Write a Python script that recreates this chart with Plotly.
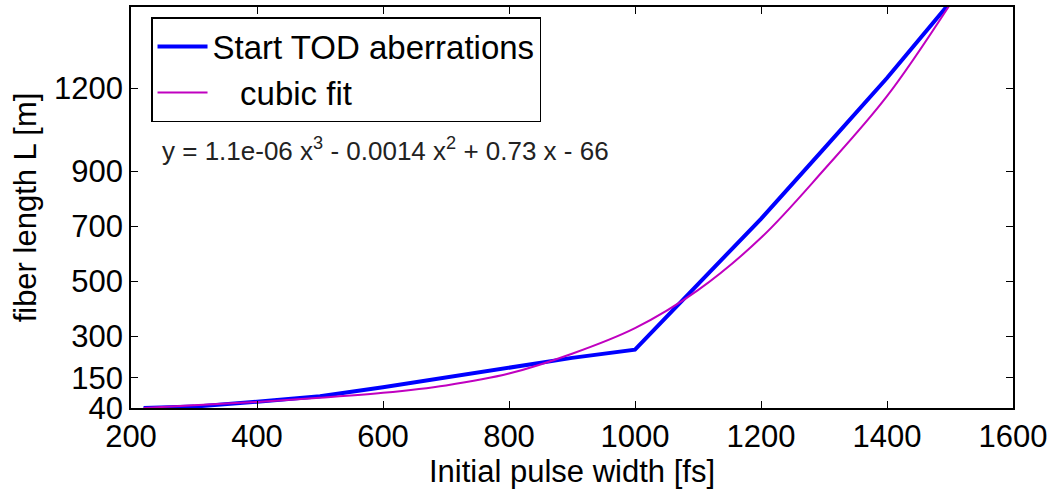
import plotly.graph_objects as go

# Data
pulse_width = [220, 300, 400, 500, 600, 700, 800, 900, 1000, 1100, 1200, 1300, 1400, 1500]
fiber_length = [40, 45, 63, 83, 115, 150, 186, 222, 252, 488, 727, 982, 1238, 1512]

fit_width = [220, 300, 400, 500, 600, 700, 800, 900, 1000, 1100, 1200, 1300, 1400, 1500]
fit_length = [40, 50, 62, 77, 95, 122, 165, 237, 330, 468, 658, 905, 1172, 1505]

x_ticks = [200, 400, 600, 800, 1000, 1200, 1400, 1600]
y_ticks = [40, 150, 300, 500, 700, 900, 1200]

series_names = ["Start TOD aberrations", "\u00a0\u00a0\u00a0cubic fit"]
equation = "y = 1.1e-06 x<sup>3</sup> - 0.0014 x<sup>2</sup> + 0.73 x - 66"

FONT = "Liberation Sans, Arial, Helvetica, sans-serif"

fig = go.Figure()
fig.add_trace(go.Scatter(x=pulse_width, y=fiber_length, mode="lines",
                         name=series_names[0],
                         line=dict(color="#0000FF", width=4)))
fig.add_trace(go.Scatter(x=fit_width, y=fit_length, mode="lines",
                         name=series_names[1],
                         line=dict(color="#C000C0", width=2, shape="spline")))

fig.add_annotation(text=equation, xref="paper", yref="paper",
                   x=0.033, y=0.645, xanchor="left", yanchor="middle",
                   showarrow=False, font=dict(family=FONT, size=26, color="#222222"))

axis_common = dict(showline=True, linecolor="black", linewidth=1.5, mirror="ticks",
                   ticks="inside", ticklen=7, tickcolor="black", tickwidth=1.2,
                   showgrid=False, zeroline=False,
                   tickfont=dict(family=FONT, size=31, color="black"))

fig.update_xaxes(range=[200, 1600], tickvals=x_ticks,
                 title=dict(text="Initial pulse width [fs]",
                            font=dict(family=FONT, size=31, color="black"), standoff=0),
                 **axis_common)
fig.update_yaxes(range=[40, 1496], tickvals=y_ticks,
                 title=dict(text="fiber length L [m]",
                            font=dict(family=FONT, size=31, color="black"), standoff=8),
                 **axis_common)

fig.update_layout(
    width=1056, height=489,
    margin=dict(l=131, r=43, t=5, b=81),
    plot_bgcolor="white", paper_bgcolor="white",
    font=dict(family=FONT, color="black"),
    legend=dict(x=0.0227, y=0.975, xanchor="left", yanchor="top",
                bgcolor="white", bordercolor="black", borderwidth=1.5,
                itemwidth=50,
                font=dict(family=FONT, size=33, color="black")),
)

fig.write_html("out.html", config={"displayModeBar": False},
               post_script="document.body.style.margin='0';document.body.style.overflow='hidden';")
